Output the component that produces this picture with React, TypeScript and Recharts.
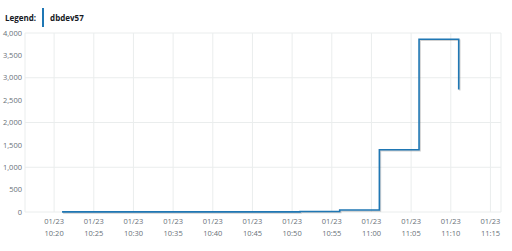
import { LineChart, Line, XAxis, YAxis, CartesianGrid } from "recharts";

// minutes since midnight, 01/23
const times = [621, 626, 631, 636, 641, 646, 651, 656, 661, 666, 671];
const values = [2, 2, 2, 2, 2, 2, 10, 45, 1390, 3860, 2740];
const xTicks = [620, 625, 630, 635, 640, 645, 650, 655, 660, 665, 670, 675];
const yTicks = [0, 500, 1000, 1500, 2000, 2500, 3000, 3500, 4000];
const seriesName = "dbdev57";

const data = times.map((t, i) => ({ t, v: values[i] }));

const FONT = "'Open Sans', 'Noto Sans', sans-serif";
const BLUE = "#1f77b4";
const TICK_COLOR = "#687078";

const hhmm = (m: number) =>
  `${String(Math.floor(m / 60)).padStart(2, "0")}:${String(m % 60).padStart(2, "0")}`;

function TimeTick(props: any) {
  const { x, y, payload } = props;
  return (
    <text x={x} y={y} textAnchor="middle" fill={TICK_COLOR} fontSize={7.5} fontFamily={FONT}>
      <tspan x={x} dy={4}>01/23</tspan>
      <tspan x={x} dy={11.5}>{hhmm(payload.value)}</tspan>
    </text>
  );
}

export default function App() {
  return (
    <div style={{ position: "absolute", left: 0, top: 0, width: 512, height: 251, background: "#fff", fontFamily: FONT }}>
      <div style={{ position: "absolute", left: 5, top: 8, display: "flex", alignItems: "center", height: 19 }}>
        <span style={{ fontSize: 8, fontWeight: 700, color: "#16191f" }}>Legend:</span>
        <span style={{ display: "inline-block", width: 2, height: 19, background: BLUE, marginLeft: 6, marginRight: 6 }} />
        <span style={{ fontSize: 8, fontWeight: 700, color: "#16191f" }}>{seriesName}</span>
      </div>
      <LineChart width={512} height={251} data={data} margin={{ top: 33, right: 11, bottom: 0, left: 0 }}>
        <CartesianGrid stroke="#eaeded" strokeWidth={1} />
        <XAxis
          dataKey="t"
          type="number"
          domain={[616.33, 676.33]}
          ticks={xTicks}
          allowDataOverflow
          height={39}
          tick={<TimeTick />}
          tickLine={false}
          axisLine={false}
        />
        <YAxis
          domain={[0, 4000]}
          ticks={yTicks}
          width={25}
          tickSize={0}
          tickMargin={3}
          tickLine={false}
          axisLine={false}
          tickFormatter={(v: number) => v.toLocaleString("en-US")}
          tick={{ fontSize: 7.5, fill: TICK_COLOR, fontFamily: FONT }}
        />
        <Line
          type="stepAfter"
          dataKey="v"
          name={seriesName}
          stroke={BLUE}
          strokeWidth={1.6}
          dot={false}
          style={{ filter: "drop-shadow(1px 1px 0px rgba(0,0,0,0.18))" }}
          isAnimationActive={false}
        />
      </LineChart>
    </div>
  );
}
